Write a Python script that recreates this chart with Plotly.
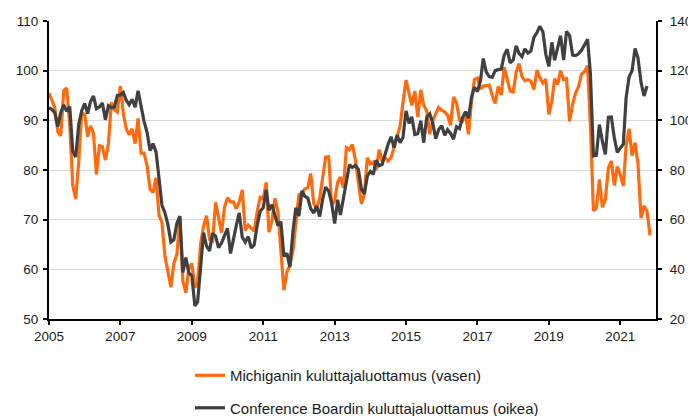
import plotly.graph_objects as go
import pandas as pd

michigan = [
    95.5, 94.1, 92.6, 87.7, 86.9, 96.0, 96.5, 89.1, 76.9, 74.2, 81.6, 91.5,
    91.2, 86.7, 88.9, 87.4, 79.1, 84.9, 84.7, 82.0, 85.4, 93.6, 92.1, 91.7,
    96.9, 91.3, 88.4, 87.1, 88.3, 85.3, 90.4, 83.4, 83.4, 80.9, 76.1, 75.5,
    78.4, 70.8, 69.5, 62.6, 59.8, 56.4, 61.2, 63.0, 70.3, 57.6, 55.3, 60.1,
    61.2, 56.3, 57.3, 65.1, 68.7, 70.8, 66.0, 65.7, 73.5, 70.6, 67.4, 72.5,
    74.4, 73.6, 73.6, 72.2, 73.6, 76.0, 67.8, 68.9, 68.2, 67.7, 71.6, 74.5,
    74.2, 77.5, 67.5, 69.8, 74.3, 71.5, 63.7, 55.8, 59.5, 60.8, 63.7, 69.9,
    75.0, 75.3, 76.2, 76.4, 79.3, 73.2, 72.3, 74.3, 78.3, 82.6, 82.7, 72.9,
    73.8, 77.6, 78.6, 76.4, 84.5, 84.1, 85.1, 82.1, 77.5, 73.2, 75.1, 82.5,
    81.2, 81.6, 80.0, 84.1, 81.9, 82.5, 81.8, 82.5, 84.6, 86.9, 88.8, 93.6,
    98.1, 95.4, 93.0, 95.9, 90.7, 96.1, 93.1, 91.9, 87.2, 90.0, 91.3, 92.6,
    92.0, 91.7, 91.0, 89.0, 94.7, 93.5, 90.0, 89.8, 91.2, 87.2, 93.8, 98.2,
    98.5, 96.3, 96.9, 97.0, 97.1, 95.0, 93.4, 96.8, 95.1, 100.7, 98.5, 95.9,
    95.7, 99.7, 101.4, 98.8, 98.0, 98.2, 97.9, 96.2, 100.1, 98.6, 97.5, 98.3,
    91.2, 93.8, 98.4, 97.2, 100.0, 98.2, 98.4, 89.8, 93.2, 95.5, 96.8, 99.3,
    99.8, 101.0, 89.1, 71.8, 72.3, 78.1, 72.5, 74.1, 80.4, 81.8, 76.9, 80.7,
    79.0, 76.8, 84.9, 88.3, 82.9, 85.5, 81.2, 70.3, 72.8, 71.7, 66.8,
]

conference_board = [
    105.1, 104.4, 103.0, 97.5, 103.1, 106.2, 103.6, 105.5, 87.5, 85.2, 98.3, 103.8,
    106.8, 102.7, 107.5, 109.8, 104.7, 105.4, 107.0, 100.2, 105.9, 105.1, 105.3, 110.0,
    110.2, 111.2, 108.2, 106.3, 108.5, 105.3, 111.9, 105.6, 99.5, 95.2, 87.8, 90.6,
    87.3, 76.4, 65.9, 62.8, 58.1, 51.0, 51.9, 58.5, 61.4, 38.8, 44.7, 38.6,
    37.4, 25.3, 26.9, 40.8, 54.8, 49.3, 47.4, 54.5, 53.4, 48.7, 50.6, 53.6,
    56.5, 46.4, 52.3, 57.7, 62.7, 52.9, 51.0, 53.2, 48.6, 49.9, 57.8, 63.4,
    64.8, 72.0, 63.8, 66.0, 61.7, 57.6, 59.2, 45.2, 46.4, 40.9, 55.2, 64.8,
    61.5, 71.6, 69.5, 68.7, 64.4, 62.7, 65.4, 61.3, 68.4, 73.1, 71.5, 66.7,
    58.4, 68.0, 61.9, 69.0, 76.2, 82.1, 81.0, 81.8, 80.2, 72.4, 70.4, 77.5,
    79.4, 78.3, 83.9, 81.7, 82.2, 86.4, 90.3, 93.4, 89.0, 94.1, 91.0, 93.1,
    103.8, 98.8, 101.4, 94.3, 94.6, 99.8, 91.0, 101.3, 102.6, 99.1, 92.6, 96.3,
    97.8, 94.0, 96.2, 94.7, 92.4, 97.4, 96.7, 101.1, 103.5, 100.8, 109.4, 113.3,
    111.6, 116.1, 124.9, 119.4, 117.6, 117.3, 120.0, 120.4, 120.6, 126.2, 128.6, 123.1,
    124.3, 130.0, 127.0, 125.6, 128.8, 127.1, 127.9, 133.4, 135.3, 137.9, 135.7, 126.6,
    121.7, 131.4, 124.2, 129.2, 134.1, 124.3, 135.8, 134.2, 126.3, 126.1, 126.8, 128.2,
    130.4, 132.6, 118.8, 85.7, 85.9, 98.3, 91.7, 86.3, 101.3, 101.4, 92.9, 87.1,
    88.9, 90.4, 109.0, 117.5, 120.0, 128.9, 125.1, 115.2, 109.8, 113.8,
]

dates_mich = pd.date_range("2005-01-01", periods=len(michigan), freq="MS")
dates_cb = pd.date_range("2005-01-01", periods=len(conference_board), freq="MS")

name_mich = "Michiganin kuluttajaluottamus (vasen)"
name_cb = "Conference Boardin kuluttajaluottamus (oikea)"

ORANGE = "#FF6A0E"
DARK = "#404040"
FONT = "Liberation Sans, Arial, sans-serif"
TXT = "#1a1a1a"

fig = go.Figure()
fig.add_trace(go.Scatter(x=dates_mich, y=michigan, name=name_mich, mode="lines",
                         line=dict(color=ORANGE, width=3.2), legendgroup="a"))
fig.add_trace(go.Scatter(x=dates_cb, y=conference_board, name=name_cb, mode="lines",
                         line=dict(color=DARK, width=3.2), yaxis="y2", legendgroup="b"))

axis_common = dict(showline=True, linecolor="black", linewidth=2,
                   ticks="outside", ticklen=4, tickcolor="black", tickwidth=1.5,
                   zeroline=False, automargin=False)

# The page body adds an 8px offset, so the figure is 8px smaller to fit the window.
fig.update_layout(
    width=688, height=408,
    margin=dict(l=41, r=40, t=13, b=97, autoexpand=False),
    paper_bgcolor="white", plot_bgcolor="white",
    font=dict(family=FONT, size=13.5, color=TXT),
    showlegend=True,
    legend=dict(orientation="v", x=0.2323, y=-0.1343, xanchor="left", yanchor="top",
                font=dict(family=FONT, size=15, color=TXT),
                tracegroupgap=10, traceorder="grouped", bgcolor="rgba(0,0,0,0)"),
    xaxis=dict(
        type="date",
        range=["2005-01-01", "2022-01-01"],
        tick0="2005-01-01", dtick="M24", tickformat="%Y",
        showgrid=False, **axis_common,
    ),
    yaxis=dict(
        range=[50, 110], dtick=10, tick0=50,
        showgrid=True, gridcolor="#D9D9D9", gridwidth=1,
        ticklabelstandoff=2,
        **axis_common,
    ),
    yaxis2=dict(
        range=[20, 140], dtick=20, tick0=20,
        overlaying="y", side="right",
        showgrid=False, ticklabelstandoff=5,
        **axis_common,
    ),
)

fig.write_html("out.html")
